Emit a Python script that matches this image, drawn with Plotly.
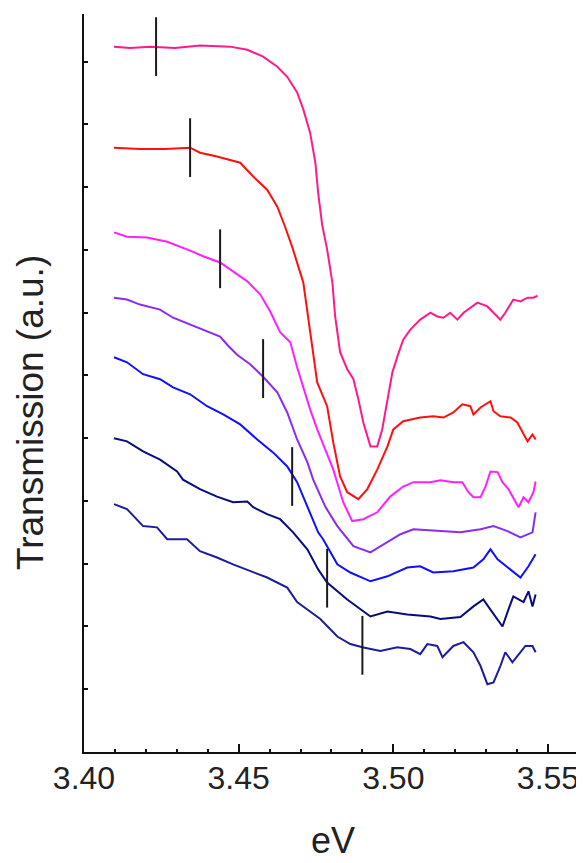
import plotly.graph_objects as go

# ---- data (eV, arbitrary transmission units with vertical offsets) ----
x1 = [3.4097, 3.4149, 3.4214, 3.4294, 3.4375, 3.4472, 3.4528, 3.4579, 3.4625, 3.4657, 3.4689, 3.4709,
      3.4731, 3.4748, 3.4757, 3.4770, 3.4786, 3.4803, 3.4812, 3.4828, 3.4851, 3.4871, 3.4887, 3.4903,
      3.4926, 3.4948, 3.4964, 3.4981, 3.4997, 3.5013, 3.5032, 3.5055, 3.5087, 3.5120, 3.5142, 3.5162,
      3.5184, 3.5207, 3.5227, 3.5272, 3.5304, 3.5324, 3.5346, 3.5362, 3.5388, 3.5411, 3.5434, 3.5453, 3.5466]
y1 = [11.24, 11.22, 11.24, 11.22, 11.26, 11.24, 11.19, 11.08, 10.92, 10.76, 10.51, 10.24,
      9.87, 9.39, 8.91, 8.40, 8.01, 7.48, 6.94, 6.37, 6.10, 5.94, 5.62, 5.25,
      4.87, 4.87, 5.14, 5.62, 6.05, 6.30, 6.57, 6.73, 6.89, 7.00, 6.94, 6.92,
      7.00, 6.89, 7.00, 7.16, 7.10, 7.00, 6.89, 7.00, 7.21, 7.18, 7.24, 7.24, 7.27]

x2 = [3.4097, 3.4181, 3.4262, 3.4343, 3.4375, 3.4430, 3.4505, 3.4547, 3.4592, 3.4625, 3.4650, 3.4673,
      3.4709, 3.4731, 3.4754, 3.4786, 3.4806, 3.4828, 3.4851, 3.4887, 3.4916, 3.4948, 3.4981, 3.5000,
      3.5032, 3.5087, 3.5129, 3.5162, 3.5194, 3.5223, 3.5249, 3.5259, 3.5282, 3.5314, 3.5324, 3.5346,
      3.5379, 3.5401, 3.5417, 3.5434, 3.5450, 3.5460]
y2 = [9.63, 9.61, 9.61, 9.63, 9.55, 9.49, 9.39, 9.17, 8.96, 8.69, 8.37, 8.05,
      7.48, 6.69, 5.89, 5.51, 4.93, 4.39, 4.14, 4.03, 4.19, 4.50, 4.87, 5.14,
      5.27, 5.33, 5.35, 5.33, 5.41, 5.54, 5.51, 5.38, 5.49, 5.59, 5.43, 5.35,
      5.33, 5.25, 5.11, 4.95, 5.06, 4.98]

x3 = [3.4097, 3.4139, 3.4204, 3.4269, 3.4343, 3.4385, 3.4440, 3.4482, 3.4528, 3.4570, 3.4602, 3.4634,
      3.4667, 3.4689, 3.4709, 3.4731, 3.4754, 3.4773, 3.4806, 3.4838, 3.4867, 3.4903, 3.4948, 3.4990,
      3.5032, 3.5065, 3.5120, 3.5152, 3.5194, 3.5223, 3.5243, 3.5259, 3.5282, 3.5298, 3.5314, 3.5337,
      3.5353, 3.5372, 3.5388, 3.5405, 3.5421, 3.5437, 3.5453, 3.5460]
y3 = [8.28, 8.21, 8.20, 8.13, 7.99, 7.90, 7.80, 7.66, 7.50, 7.29, 7.02, 6.69,
      6.53, 6.13, 5.81, 5.46, 5.14, 4.90, 4.50, 3.98, 3.68, 3.71, 3.82, 4.07,
      4.23, 4.30, 4.30, 4.33, 4.30, 4.30, 4.14, 4.06, 4.06, 4.23, 4.47, 4.46,
      4.30, 4.19, 4.06, 3.90, 4.06, 3.98, 4.14, 4.31]

x4 = [3.4097, 3.4139, 3.4181, 3.4246, 3.4288, 3.4343, 3.4398, 3.4440, 3.4463, 3.4495, 3.4537, 3.4579,
      3.4625, 3.4657, 3.4689, 3.4722, 3.4741, 3.4780, 3.4819, 3.4871, 3.4926, 3.4981, 3.5023, 3.5065,
      3.5142, 3.5217, 3.5282, 3.5324, 3.5369, 3.5411, 3.5450, 3.5460]
y4 = [7.24, 7.21, 7.13, 7.05, 6.92, 6.81, 6.70, 6.62, 6.49, 6.33, 6.18, 5.98,
      5.73, 5.41, 4.98, 4.62, 4.34, 3.91, 3.60, 3.28, 3.18, 3.34, 3.47, 3.55,
      3.53, 3.50, 3.55, 3.60, 3.52, 3.42, 3.50, 3.82]

x5 = [3.4097, 3.4139, 3.4191, 3.4246, 3.4288, 3.4343, 3.4398, 3.4450, 3.4505, 3.4560, 3.4612, 3.4657,
      3.4689, 3.4731, 3.4757, 3.4773, 3.4819, 3.4861, 3.4926, 3.4981, 3.5045, 3.5087, 3.5129, 3.5194,
      3.5259, 3.5291, 3.5314, 3.5337, 3.5369, 3.5411, 3.5437, 3.5460]
y5 = [6.29, 6.21, 6.02, 5.94, 5.81, 5.70, 5.51, 5.38, 5.22, 4.98, 4.77, 4.55,
      4.30, 3.82, 3.50, 3.39, 2.99, 2.86, 2.72, 2.80, 2.94, 2.96, 2.86, 2.88,
      2.94, 3.07, 3.23, 3.07, 2.94, 2.78, 2.96, 3.15]

x6 = [3.4097, 3.4139, 3.4191, 3.4246, 3.4301, 3.4320, 3.4375, 3.4430, 3.4482, 3.4528, 3.4547, 3.4592,
      3.4634, 3.4676, 3.4722, 3.4757, 3.4786, 3.4851, 3.4926, 3.4981, 3.5045, 3.5120, 3.5152, 3.5217,
      3.5259, 3.5291, 3.5314, 3.5353, 3.5372, 3.5388, 3.5421, 3.5437, 3.5450, 3.5460]
y6 = [5.00, 4.95, 4.79, 4.66, 4.47, 4.34, 4.19, 4.07, 3.98, 3.99, 3.90, 3.79,
      3.71, 3.50, 3.23, 2.91, 2.70, 2.43, 2.16, 2.24, 2.19, 2.16, 2.12, 2.15,
      2.32, 2.43, 2.27, 2.00, 2.27, 2.48, 2.39, 2.56, 2.32, 2.51]

x7 = [3.4097, 3.4139, 3.4191, 3.4236, 3.4269, 3.4333, 3.4375, 3.4430, 3.4482, 3.4537, 3.4592, 3.4657,
      3.4689, 3.4722, 3.4764, 3.4819, 3.4861, 3.4900, 3.4958, 3.5013, 3.5055, 3.5087, 3.5110, 3.5142,
      3.5159, 3.5194, 3.5227, 3.5259, 3.5282, 3.5304, 3.5324, 3.5346, 3.5362, 3.5385, 3.5411, 3.5427,
      3.5450, 3.5460]
y7 = [3.95, 3.87, 3.60, 3.58, 3.39, 3.39, 3.20, 3.10, 2.99, 2.88, 2.78, 2.62,
      2.39, 2.27, 2.12, 1.84, 1.72, 1.67, 1.61, 1.67, 1.64, 1.56, 1.72, 1.69,
      1.51, 1.69, 1.75, 1.59, 1.37, 1.08, 1.11, 1.37, 1.59, 1.43, 1.59, 1.69,
      1.69, 1.59]

mark_x = [3.4233, 3.4343, 3.4440, 3.4579, 3.4673, 3.4786, 3.4900]
mark_y = [11.24, 9.63, 7.86, 6.11, 4.39, 2.77, 1.70]

series_x = [x1, x2, x3, x4, x5, x6, x7]
series_y = [y1, y2, y3, y4, y5, y6, y7]
colors = ["#FF1A8C", "#FF1010", "#FF20FF", "#8A2BF0", "#1010FF", "#0A0A80", "#1C1C9C"]

x_ticks = [3.40, 3.45, 3.50, 3.55]
x_ticklabels = ["3.40", "3.45", "3.50", "3.55"]

fig = go.Figure()
for xs, ys, c in zip(series_x, series_y, colors):
    fig.add_trace(go.Scatter(x=xs, y=ys, mode="lines",
                             line=dict(color=c, width=2), showlegend=False, hoverinfo="skip"))

fig.add_trace(go.Scatter(x=mark_x, y=mark_y, mode="markers",
                         marker=dict(symbol="line-ns", size=42, line=dict(color="#1a1a1a", width=2)),
                         showlegend=False, hoverinfo="skip"))

# the page body adds an 8px offset; size the figure so it fits the window
fig.update_layout(
    width=576, height=855,
    margin=dict(l=76, r=2, t=6, b=111),
    paper_bgcolor="white", plot_bgcolor="white",
    font=dict(family="Liberation Sans, Arial, sans-serif", color="#222"),
)
fig.update_xaxes(range=[3.40, 3.561], showgrid=False, zeroline=False,
                 showline=True, linecolor="#111", linewidth=2,
                 tickvals=x_ticks, ticktext=x_ticklabels,
                 ticks="inside", ticklen=8, tickwidth=2, tickcolor="#111",
                 minor=dict(dtick=0.01, tick0=3.40, ticks="inside", ticklen=3, tickwidth=2, tickcolor="#111"),
                 tickfont=dict(size=32, color="#222"), ticklabelstandoff=-3)
fig.update_yaxes(range=[0, 11.76], showgrid=False, zeroline=False,
                 showline=True, linecolor="#111", linewidth=2,
                 tick0=0, dtick=1, ticks="inside", ticklen=4, tickwidth=2, tickcolor="#111",
                 showticklabels=False)

fig.add_annotation(text="eV", xref="paper", yref="paper", x=0.5, y=-0.12,
                   xanchor="center", yanchor="middle", showarrow=False, borderpad=0,
                   font=dict(size=36, color="#222"))
fig.add_annotation(text="Transmission (a.u.)", xref="paper", yref="paper", x=-0.1084, y=0.4593,
                   xanchor="center", yanchor="middle", textangle=-90, showarrow=False,
                   font=dict(size=37, color="#222"))

fig.write_html("out.html")
